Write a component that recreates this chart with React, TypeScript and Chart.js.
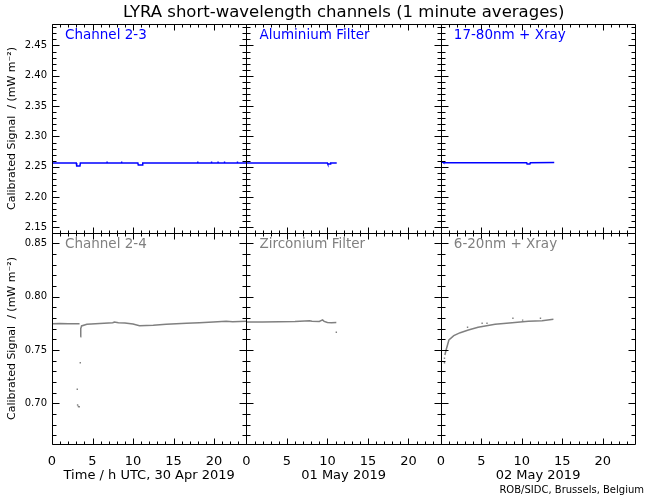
import React, { useEffect, useRef } from 'react';
import { Chart, registerables } from 'chart.js';

Chart.register(...registerables);

// ---------- text ----------
const TITLE = 'LYRA short-wavelength channels (1 minute averages)';
const CREDIT = 'ROB/SIDC, Brussels, Belgium';
const DAY_TITLES = ['Time / h UTC, 30 Apr 2019', '01 May 2019', '02 May 2019'];
const TOP_PANEL_LABELS = ['Channel 2-3', 'Aluminium Filter', '17-80nm + Xray'];
const BOTTOM_PANEL_LABELS = ['Channel 2-4', 'Zirconium Filter', '6-20nm + Xray'];
const Y_TITLE = 'Calibrated Signal  / (mW m\u207B\u00B2)';

// ---------- axes ----------
const X_RANGE = [0, 24];
const X_MAJOR_TICKS = [0, 5, 10, 15, 20];
const X_MINOR_TICKS = [1, 2, 3, 4, 6, 7, 8, 9, 11, 12, 13, 14, 16, 17, 18, 19, 21, 22, 23];
const TOP_Y_RANGE = [2.1409, 2.4854];
const TOP_Y_TICKS = [2.15, 2.2, 2.25, 2.3, 2.35, 2.4, 2.45];
const BOTTOM_Y_RANGE = [0.6618, 0.8597];
const BOTTOM_Y_TICKS = [0.7, 0.75, 0.8, 0.85];
const Y_MINOR_STEP = 0.01;

// ---------- data (hours UTC of each day, calibrated signal) ----------
// Channel 2-3, 30 Apr
const CH23_HOURS = [0, 3.0, 3.05, 3.45, 3.5, 10.6, 10.65, 11.15, 11.2, 24];
const CH23_VALUES = [2.2561, 2.2561, 2.2515, 2.2515, 2.2561, 2.2561, 2.2530, 2.2530, 2.2561, 2.2561];
const CH23_SPIKE_HOURS = [6.8, 8.6, 18.0, 19.7, 20.5, 21.3, 22.9];
const CH23_SPIKE_VALUES = [2.2576, 2.2576, 2.2576, 2.2576, 2.2576, 2.2576, 2.2576];
// Aluminium filter, 01 May
const AL_HOURS = [0, 10.0, 10.05, 10.35, 10.4, 11.15];
const AL_VALUES = [2.2561, 2.2561, 2.2545, 2.2545, 2.2563, 2.2563];
// 17-80nm + Xray, 02 May
const XR1780_HOURS = [0, 0.3, 0.35, 10.6, 10.65, 11.0, 11.05, 14.0];
const XR1780_VALUES = [2.2575, 2.2575, 2.2568, 2.2568, 2.2546, 2.2546, 2.2568, 2.257];

// Channel 2-4, 30 Apr
const CH24_PRE_HOURS = [0, 1, 2, 3.4];
const CH24_PRE_VALUES = [0.7745, 0.7748, 0.7745, 0.7746];
const CH24_POST_HOURS = [3.5, 3.55, 3.65, 4.3, 5.9, 7.5, 7.7, 8.2, 9, 10, 10.8, 12.5, 14.1, 16.6, 18.2, 19.9, 21.5, 22.3, 24];
const CH24_POST_VALUES = [0.7625, 0.77, 0.7725, 0.7741, 0.7747, 0.7755, 0.7762, 0.7756, 0.7752, 0.7743, 0.7728, 0.7731, 0.774, 0.775, 0.7756, 0.7762, 0.7769, 0.7765, 0.7769];
const CH24_DIP_HOURS = [3.12, 3.16, 3.26, 3.36, 3.49];
const CH24_DIP_VALUES = [0.7131, 0.6984, 0.697, 0.6968, 0.738];
// Zirconium filter, 01 May
const ZR_HOURS = [0, 2, 4, 6, 7.8, 8.1, 9.0, 9.4, 9.6, 10.0, 10.5, 11.1];
const ZR_VALUES = [0.7762, 0.7763, 0.7764, 0.7766, 0.7774, 0.7770, 0.7768, 0.7782, 0.7768, 0.7757, 0.7756, 0.7757];
const ZR_OUTLIER_HOURS = [11.1];
const ZR_OUTLIER_VALUES = [0.7666];
// 6-20nm + Xray, 02 May
const XR620_HOURS = [0.5, 0.65, 1.0, 1.6, 2.4, 3.4, 4.6, 6.7, 8.8, 10.8, 12.5, 13.9];
const XR620_VALUES = [0.7453, 0.75, 0.7594, 0.7634, 0.7662, 0.7687, 0.7713, 0.7741, 0.7756, 0.7769, 0.7774, 0.7787];
const XR620_SCATTER_HOURS = [0.45, 0.45, 3.3, 5.1, 5.7, 8.9, 10.1, 12.3];
const XR620_SCATTER_VALUES = [0.7422, 0.738, 0.7713, 0.775, 0.775, 0.7797, 0.778, 0.7797];

// ---------- styles ----------
const FONT = 'DejaVu Sans';
const BLUE = '#0000ff';
const GREY = '#808080';
const X_IDS = ['x1', 'x2', 'x3'];

const pts = (h: number[], v: number[]) => h.map((x, i) => ({ x, y: v[i] }));

const lineSet = (h: number[], v: number[], color: string, xAxisID: string, yAxisID: string) => ({
  data: pts(h, v),
  showLine: true,
  borderColor: color,
  backgroundColor: color,
  borderWidth: 1.5,
  pointRadius: 0,
  xAxisID,
  yAxisID,
});

const dotSet = (h: number[], v: number[], color: string, xAxisID: string, yAxisID: string) => ({
  data: pts(h, v),
  showLine: false,
  borderColor: color,
  backgroundColor: color,
  borderWidth: 0,
  pointRadius: 1,
  pointStyle: 'rect',
  xAxisID,
  yAxisID,
});

const minorValues = (range: number[], step: number) => {
  const out: number[] = [];
  const a = Math.ceil(range[0] / step - 1e-6);
  const b = Math.floor(range[1] / step + 1e-6);
  for (let k = a; k <= b; k++) out.push(k);
  return out;
};

const framePlugin = {
  id: 'lyraFrames',
  afterDatasetsDraw(chart: any) {
    const ctx = chart.ctx;
    const xs = X_IDS.map((id) => chart.scales[id]);
    const rows = [
      { scale: chart.scales.yTop, range: TOP_Y_RANGE, labels: TOP_PANEL_LABELS, color: BLUE },
      { scale: chart.scales.yBot, range: BOTTOM_Y_RANGE, labels: BOTTOM_PANEL_LABELS, color: GREY },
    ];
    ctx.save();
    ctx.strokeStyle = '#000';
    ctx.lineWidth = 1;
    for (const row of rows) {
      const ys = row.scale;
      const T = Math.round(ys.top) + 0.5;
      const B = Math.round(ys.bottom) + 0.5;
      xs.forEach((xsc: any, i: number) => {
        const L = Math.round(xsc.left) + 0.5;
        const R = Math.round(xsc.right) + 0.5;
        ctx.beginPath();
        ctx.rect(L, T, R - L, B - T);
        // x ticks (inward, top and bottom)
        const xt = [...X_MAJOR_TICKS.map((v) => [v, 6]), ...X_MINOR_TICKS.map((v) => [v, 3])];
        for (const [v, len] of xt) {
          const px = Math.round(xsc.getPixelForValue(v)) + 0.5;
          ctx.moveTo(px, B);
          ctx.lineTo(px, B - len);
          ctx.moveTo(px, T);
          ctx.lineTo(px, T + len);
        }
        // y ticks (inward, left and right)
        for (const k of minorValues(row.range, Y_MINOR_STEP)) {
          const v = k * Y_MINOR_STEP;
          const len = k % 5 === 0 ? 7 : 4;
          const py = Math.round(ys.getPixelForValue(v)) + 0.5;
          ctx.moveTo(L, py);
          ctx.lineTo(L + len, py);
          ctx.moveTo(R, py);
          ctx.lineTo(R - len, py);
        }
        ctx.stroke();
        // panel label
        ctx.fillStyle = row.color;
        ctx.font = `13.5px "${FONT}"`;
        ctx.textAlign = 'left';
        ctx.textBaseline = 'middle';
        ctx.fillText(row.labels[i], xsc.left + 13, ys.top + 12);
      });
    }
    ctx.restore();
  },
};

const xAxis = (i: number) => ({
  type: 'linear',
  position: 'bottom',
  stack: 'days',
  stackWeight: 1,
  weight: i + 1,
  min: X_RANGE[0],
  max: X_RANGE[1],
  afterBuildTicks: (s: any) => {
    s.ticks = X_MAJOR_TICKS.map((value) => ({ value }));
  },
  afterFit: (s: any) => {
    s.height = 40;
  },
  grid: { display: false, drawTicks: false },
  border: { display: false },
  ticks: {
    autoSkip: false,
    maxRotation: 0,
    padding: 10,
    color: '#000',
    font: { family: FONT, size: 13 },
    callback: (v: any) => String(v),
  },
  title: {
    display: true,
    text: DAY_TITLES[i],
    color: '#000',
    font: { family: FONT, size: 13 },
    padding: { top: 0, bottom: 1 },
  },
});

const yAxis = (range: number[], ticks: number[], weight: number, stackWeight: number) => ({
  type: 'linear',
  position: 'left',
  stack: 'rows',
  stackWeight,
  weight,
  min: range[0],
  max: range[1],
  afterBuildTicks: (s: any) => {
    s.ticks = ticks.map((value) => ({ value }));
  },
  afterFit: (s: any) => {
    s.width = 52;
  },
  grid: { display: false, drawTicks: false },
  border: { display: false },
  ticks: {
    padding: 5,
    color: '#000',
    font: { family: FONT, size: 10 },
    callback: (v: any) => Number(v).toFixed(2),
  },
  title: {
    display: true,
    text: Y_TITLE,
    color: '#000',
    font: { family: FONT, size: 11 },
    padding: { top: 6, bottom: 0 },
  },
});

export default function App() {
  const ref = useRef<HTMLCanvasElement>(null);

  useEffect(() => {
    if (!ref.current) return;
    const chart = new Chart(ref.current, {
      type: 'scatter',
      data: {
        datasets: [
          lineSet(CH23_HOURS, CH23_VALUES, BLUE, 'x1', 'yTop'),
          dotSet(CH23_SPIKE_HOURS, CH23_SPIKE_VALUES, BLUE, 'x1', 'yTop'),
          lineSet(AL_HOURS, AL_VALUES, BLUE, 'x2', 'yTop'),
          lineSet(XR1780_HOURS, XR1780_VALUES, BLUE, 'x3', 'yTop'),
          lineSet(CH24_PRE_HOURS, CH24_PRE_VALUES, GREY, 'x1', 'yBot'),
          lineSet(CH24_POST_HOURS, CH24_POST_VALUES, GREY, 'x1', 'yBot'),
          dotSet(CH24_DIP_HOURS, CH24_DIP_VALUES, GREY, 'x1', 'yBot'),
          lineSet(ZR_HOURS, ZR_VALUES, GREY, 'x2', 'yBot'),
          dotSet(ZR_OUTLIER_HOURS, ZR_OUTLIER_VALUES, GREY, 'x2', 'yBot'),
          lineSet(XR620_HOURS, XR620_VALUES, GREY, 'x3', 'yBot'),
          dotSet(XR620_SCATTER_HOURS, XR620_SCATTER_VALUES, GREY, 'x3', 'yBot'),
        ] as any,
      },
      options: {
        animation: false,
        responsive: false,
        devicePixelRatio: 1,
        layout: { padding: { left: 0, right: 6, top: 0, bottom: 0 } },
        plugins: {
          legend: { display: false },
          tooltip: { enabled: false },
          title: {
            display: true,
            text: TITLE,
            fullSize: false,
            color: '#000',
            font: { family: FONT, size: 16.5, weight: 'normal' as any, lineHeight: 1.15 },
            padding: { top: 3, bottom: 2 },
          },
          subtitle: {
            display: true,
            text: CREDIT,
            position: 'bottom',
            align: 'end',
            color: '#000',
            font: { family: FONT, size: 10, weight: 'normal' as any },
            padding: { top: 0, bottom: 4 },
          },
        },
        scales: {
          x1: xAxis(0),
          x2: xAxis(1),
          x3: xAxis(2),
          yTop: yAxis(TOP_Y_RANGE, TOP_Y_TICKS, 2, 209),
          yBot: yAxis(BOTTOM_Y_RANGE, BOTTOM_Y_TICKS, 1, 211),
          pad: {
            type: 'linear',
            position: 'right',
            display: true,
            grid: { display: false, drawTicks: false },
            border: { display: false },
            ticks: { display: false },
            afterFit: (s: any) => {
              s.width = 7;
            },
          },
        } as any,
      },
      plugins: [framePlugin],
    });
    return () => chart.destroy();
  }, []);

  return (
    <div style={{ position: 'absolute', left: 0, top: 0, width: 650, height: 500, background: '#fff' }}>
      <canvas ref={ref} width={650} height={500} style={{ display: 'block', width: 650, height: 500 }} />
    </div>
  );
}
